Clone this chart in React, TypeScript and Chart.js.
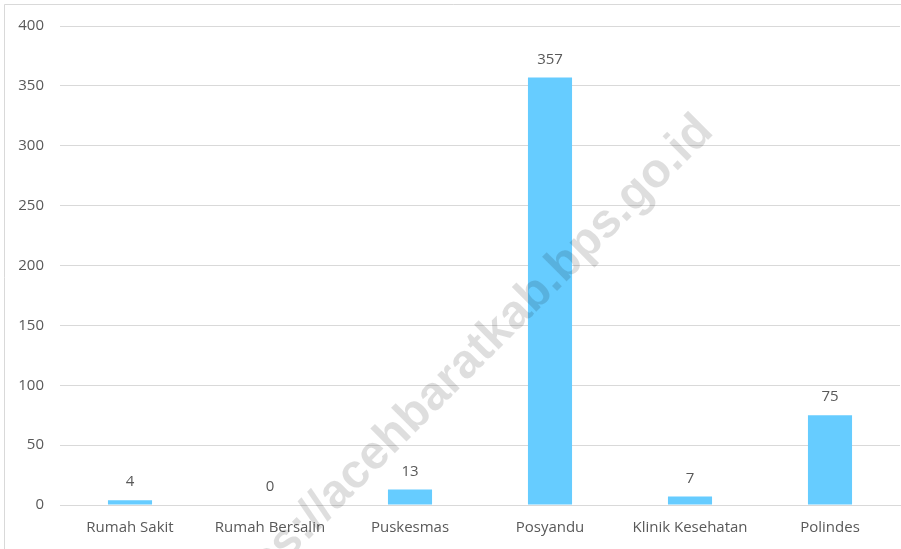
import React, { useEffect, useRef } from "react";
import { Chart, registerables } from "chart.js";

Chart.register(...registerables);

const categories = ["Rumah Sakit", "Rumah Bersalin", "Puskesmas", "Posyandu", "Klinik Kesehatan", "Polindes"];
const values = [4, 0, 13, 357, 7, 75];
const yMin = 0;
const yMax = 400;
const yStep = 50;
const watermark = "https://acehbaratkab.bps.go.id";

const FONT = "'Open Sans', 'Liberation Sans', sans-serif";
const TEXT = "#595959";
const GRID = "#D9D9D9";
const BAR = "#66CCFF";

const framePlugin = {
  id: "frame",
  beforeDraw(chart: any) {
    const ctx = chart.ctx;
    ctx.save();
    ctx.fillStyle = "#ffffff";
    ctx.fillRect(0, 0, chart.width, chart.height);
    ctx.strokeStyle = GRID;
    ctx.lineWidth = 1;
    ctx.beginPath();
    ctx.moveTo(4.5, chart.height + 5);
    ctx.lineTo(4.5, 4.5);
    ctx.lineTo(chart.width + 5, 4.5);
    ctx.stroke();
    ctx.restore();
  },
};

const labelPlugin = {
  id: "valueLabels",
  afterDatasetsDraw(chart: any) {
    const ctx = chart.ctx;
    const meta = chart.getDatasetMeta(0);
    ctx.save();
    ctx.font = `15px ${FONT}`;
    ctx.fillStyle = TEXT;
    ctx.textAlign = "center";
    ctx.textBaseline = "middle";
    meta.data.forEach((el: any, i: number) => {
      ctx.fillText(String(values[i]), el.x, el.y - 18);
    });
    ctx.restore();
  },
};

const watermarkPlugin = {
  id: "watermark",
  afterDraw(chart: any) {
    const ctx = chart.ctx;
    ctx.save();
    ctx.translate(715, 133);
    ctx.rotate(-Math.PI / 4);
    ctx.font = `bold 48px 'Liberation Sans', Arial, sans-serif`;
    ctx.fillStyle = "rgba(0,0,0,0.13)";
    ctx.textAlign = "right";
    ctx.textBaseline = "alphabetic";
    ctx.fillText(watermark, 0, 0);
    ctx.restore();
  },
};

export default function App() {
  const ref = useRef<HTMLCanvasElement>(null);
  useEffect(() => {
    if (!ref.current) return;
    const chart = new Chart(ref.current, {
      type: "bar",
      data: {
        labels: categories,
        datasets: [
          {
            data: values,
            backgroundColor: BAR,
            borderWidth: 0,
            categoryPercentage: 1,
            barPercentage: 0.315,
          },
        ],
      },
      options: {
        responsive: false,
        animation: false,
        layout: { padding: { left: 4, right: 1, top: 26, bottom: 0 } },
        plugins: { legend: { display: false }, tooltip: { enabled: false } },
        scales: {
          x: {
            grid: { display: false, drawTicks: false },
            border: { display: true, color: GRID, width: 1 },
            ticks: { color: TEXT, font: { family: FONT, size: 15 }, padding: 14, maxRotation: 0, autoSkip: false },
            afterFit(s: any) {
              s.height = 44;
            },
          },
          y: {
            min: yMin,
            max: yMax,
            ticks: { stepSize: yStep, color: TEXT, font: { family: FONT, size: 15 }, padding: 16 },
            grid: { color: GRID, drawTicks: false },
            border: { display: false },
            afterFit(s: any) {
              s.width = 56;
            },
          },
        },
      },
      plugins: [framePlugin, labelPlugin, watermarkPlugin],
    });
    return () => chart.destroy();
  }, []);
  return (
    <div style={{ position: "fixed", left: 0, top: 0, width: 901, height: 549, background: "#fff" }}>
      <canvas ref={ref} width={901} height={549} style={{ display: "block" }} />
    </div>
  );
}
